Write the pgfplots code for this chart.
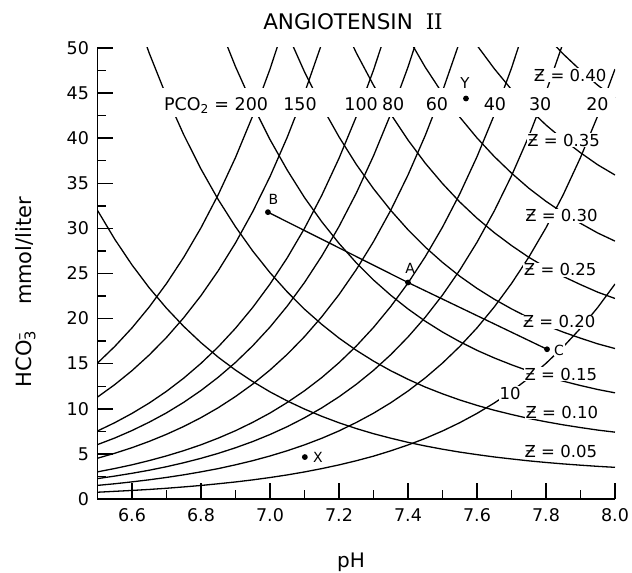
\documentclass[border=0pt]{standalone}
\usepackage{fontspec}
\setmainfont{DejaVu Sans}
\newfontfamily\serifII{DejaVu Serif}
\usepackage{pgfplots}
\usepackage{pgfplotstable}
\pgfplotsset{compat=1.18}

\pgfplotstableread{
ph   p200  p150  p100  p80   p60   p40   p30   p20   p10   z05   z10   z15   z20   z25   z30   z35   z40
6.50 15.07 11.30 7.54  6.03  4.52  3.01  2.26  1.51  0.75  32.00 67.60 nan   nan   nan   nan   nan   nan
6.55 16.91 12.68 8.46  6.76  5.07  3.38  2.54  1.69  0.85  28.80 60.80 nan   nan   nan   nan   nan   nan
6.60 18.97 14.23 9.49  7.59  5.69  3.79  2.85  1.90  0.95  25.95 54.80 nan   nan   nan   nan   nan   nan
6.65 21.29 15.97 10.64 8.52  6.39  4.26  3.19  2.13  1.06  23.41 49.42 nan   nan   nan   nan   nan   nan
6.70 23.89 17.91 11.94 9.55  7.17  4.78  3.58  2.39  1.19  21.15 44.64 70.90 nan   nan   nan   nan   nan
6.75 26.80 20.10 13.40 10.72 8.04  5.36  4.02  2.68  1.34  19.13 40.38 64.13 nan   nan   nan   nan   nan
6.80 30.07 22.55 15.04 12.03 9.02  6.01  4.51  3.01  1.50  17.33 36.58 58.09 nan   nan   nan   nan   nan
6.85 33.74 25.31 16.87 13.50 10.12 6.75  5.06  3.37  1.69  15.72 33.19 52.71 74.70 nan   nan   nan   nan
6.90 37.86 28.39 18.93 15.14 11.36 7.57  5.68  3.79  1.89  14.29 30.18 47.93 67.90 nan   nan   nan   nan
6.95 42.48 31.86 21.24 16.99 12.74 8.50  6.37  4.25  2.12  13.02 27.49 43.66 61.85 nan   nan   nan   nan
7.00 47.66 35.74 23.83 19.06 14.30 9.53  7.15  4.77  2.38  11.88 25.09 39.85 56.45 nan   nan   nan   nan
7.05 53.48 40.11 26.74 21.39 16.04 10.70 8.02  5.35  2.67  10.87 22.96 36.46 51.65 68.90 nan   nan   nan
7.10 nan   45.00 30.00 24.00 18.00 12.00 9.00  6.00  3.00  9.97  21.04 33.42 47.35 63.13 nan   nan   nan
7.15 nan   50.49 33.66 26.93 20.20 13.46 10.10 6.73  3.37  9.17  19.36 30.74 43.55 58.07 nan   nan   nan
7.20 nan   nan   37.77 30.21 22.66 15.11 11.33 7.55  3.78  8.45  17.84 28.34 40.15 53.53 68.80 nan   nan
7.25 nan   nan   42.38 33.90 25.43 16.95 12.71 8.48  4.24  7.81  16.49 26.19 37.10 49.47 63.60 nan   nan
7.30 nan   nan   47.55 38.04 28.53 19.02 14.26 9.51  4.75  7.24  15.29 24.28 34.40 45.87 58.97 nan   nan
7.35 nan   nan   53.35 42.68 32.01 21.34 16.00 10.67 5.34  6.74  14.22 22.59 32.00 42.67 54.86 nan   nan
7.40 nan   nan   nan   47.89 35.92 23.94 17.96 11.97 5.99  6.28  13.27 21.07 29.85 39.80 51.17 64.30 nan
7.45 nan   nan   nan   53.73 40.30 26.86 20.15 13.43 6.72  5.88  12.41 19.71 27.93 37.23 47.87 60.15 nan
7.50 nan   nan   nan   nan   45.21 30.14 22.61 15.07 7.54  5.52  11.66 18.51 26.23 34.97 44.96 56.48 nan
7.55 nan   nan   nan   nan   50.73 33.82 25.37 16.91 8.46  5.20  10.98 17.44 24.70 32.93 42.34 53.20 nan
7.60 nan   nan   nan   nan   nan   37.95 28.46 18.97 9.49  4.92  10.38 16.48 23.35 31.13 40.03 50.29 62.27
7.65 nan   nan   nan   nan   nan   42.58 31.93 21.29 10.64 4.66  9.84  15.64 22.15 29.53 37.97 47.71 59.07
7.70 nan   nan   nan   nan   nan   47.77 35.83 23.89 11.94 4.44  9.37  14.88 21.08 28.10 36.13 45.39 56.20
7.75 nan   nan   nan   nan   nan   53.60 40.20 26.80 13.40 4.23  8.93  14.19 20.10 26.80 34.46 43.29 53.60
7.80 nan   nan   nan   nan   nan   nan   45.11 30.07 15.04 4.05  8.56  13.59 19.25 25.67 33.00 41.46 51.33
7.85 nan   nan   nan   nan   nan   nan   50.61 33.74 16.87 3.89  8.22  13.06 18.50 24.67 31.71 39.85 49.33
7.90 nan   nan   nan   nan   nan   nan   nan   37.86 18.93 3.75  7.92  12.58 17.83 23.77 30.56 38.39 47.53
7.95 nan   nan   nan   nan   nan   nan   nan   42.48 21.24 3.62  7.64  12.14 17.20 22.93 29.49 37.05 45.87
8.00 nan   nan   nan   nan   nan   nan   nan   47.66 23.83 3.51  7.41  11.77 16.68 22.23 28.59 35.92 44.47
}\data

\newcommand{\lab}{\fontsize{16.5bp}{18bp}\selectfont}
\newcommand{\rowf}{\fontsize{17.5bp}{19bp}\selectfont}
\newcommand{\letf}{\fontsize{14bp}{16bp}\selectfont}

\begin{document}
\begin{tikzpicture}
\begin{axis}[
  scale only axis, width=517.5bp, height=451bp,
  xmin=6.5, xmax=8.0, ymin=0, ymax=50,
  axis x line=bottom, axis y line=left,
  axis line style={-, line width=1.8bp},
  xtick={6.6,6.8,7.0,7.2,7.4,7.6,7.8,8.0},
  xticklabels={6.6,6.8,7.0,7.2,7.4,7.6,7.8,8.0},
  minor xtick={6.7,6.9,7.1,7.3,7.5,7.7,7.9},
  ytick={0,5,10,15,20,25,30,35,40,45,50},
  yticklabels={0,5,10,15,20,25,30,35,40,45,50},
  minor ytick={2.5,7.5,12.5,17.5,22.5,27.5,32.5,37.5,42.5,47.5},
  tick align=inside,
  major tick length=16bp, minor tick length=9bp,
  every tick/.style={line width=1.4bp, black},
  tick label style={font=\fontsize{17.5bp}{19bp}\selectfont},
  xticklabel style={yshift=-6bp},
  yticklabel style={xshift=-5bp},
  axis on top,
  unbounded coords=jump,
  clip=true,
  every axis plot/.append style={line width=1.3bp, black},
]
\addplot[no marks] table[x=ph,y=p200] {\data};
\addplot[no marks] table[x=ph,y=p150] {\data};
\addplot[no marks] table[x=ph,y=p100] {\data};
\addplot[no marks] table[x=ph,y=p80] {\data};
\addplot[no marks] table[x=ph,y=p60] {\data};
\addplot[no marks] table[x=ph,y=p40] {\data};
\addplot[no marks] table[x=ph,y=p30] {\data};
\addplot[no marks] table[x=ph,y=p20] {\data};
\addplot[no marks] table[x=ph,y=p10] {\data};
\addplot[no marks] table[x=ph,y=z05] {\data};
\addplot[no marks] table[x=ph,y=z10] {\data};
\addplot[no marks] table[x=ph,y=z15] {\data};
\addplot[no marks] table[x=ph,y=z20] {\data};
\addplot[no marks] table[x=ph,y=z25] {\data};
\addplot[no marks] table[x=ph,y=z30] {\data};
\addplot[no marks] table[x=ph,y=z35] {\data};
\addplot[no marks] table[x=ph,y=z40] {\data};

% label row gap
\fill[white] (6.5,42.4) rectangle (8.0,45.6);

% PCO2 labels
\node[anchor=base east, font=\rowf, inner sep=0pt] at (6.995,43.1) {PCO\textsubscript{2} = 200};
\node[anchor=base, font=\rowf, inner sep=0pt] at (7.087,43.1) {150};
\node[anchor=base, font=\rowf, inner sep=0pt] at (7.264,43.1) {100};
\node[anchor=base, font=\rowf, inner sep=0pt] at (7.357,43.1) {80};
\node[anchor=base, font=\rowf, inner sep=0pt] at (7.484,43.1) {60};
\node[anchor=base, font=\rowf, inner sep=0pt] at (7.652,43.1) {40};
\node[anchor=base, font=\rowf, inner sep=0pt] at (7.783,43.1) {30};
\node[anchor=base, font=\rowf, inner sep=0pt] at (7.949,43.1) {20};

% Z labels
\node[font=\lab, fill=white, inner sep=0.8bp] at (7.870,47.0) {Ƶ = 0.40};
\node[font=\lab, fill=white, inner sep=0.8bp] at (7.851,39.75) {Ƶ = 0.35};
\node[font=\lab, fill=white, inner sep=0.8bp] at (7.845,31.4) {Ƶ = 0.30};
\node[font=\lab, fill=white, inner sep=0.8bp] at (7.841,25.4) {Ƶ = 0.25};
\node[font=\lab, fill=white, inner sep=0.8bp] at (7.838,19.65) {Ƶ = 0.20};
\node[font=\lab, fill=white, inner sep=0.8bp] at (7.843,13.85) {Ƶ = 0.15};
\node[font=\lab, fill=white, inner sep=0.8bp] at (7.846,9.6) {Ƶ = 0.10};
\node[font=\lab, fill=white, inner sep=0.8bp] at (7.843,5.3) {Ƶ = 0.05};
\node[font=\lab, fill=white, inner sep=0.8bp] at (7.696,11.7) {10};

% points
\addplot[line width=1.3bp, mark=*, mark size=2.2bp] coordinates {(6.994,31.8) (7.40,24.0) (7.803,16.6)};
\addplot[only marks, mark=*, mark size=2.2bp] coordinates {(7.101,4.65) (7.568,44.4)};
\node[font=\letf, inner sep=0.5bp] at (7.010,33.2) {B};
\node[font=\letf, inner sep=0.5bp] at (7.406,25.6) {A};
\node[font=\letf, fill=white, inner sep=0.5bp] at (7.838,16.5) {C};
\node[font=\letf, inner sep=0.5bp] at (7.139,4.65) {X};
\node[font=\fontsize{15bp}{17bp}\selectfont, inner sep=0.5bp] at (7.565,46.1) {Y};

\coordinate (O) at (rel axis cs:0,0);
\end{axis}
\node[font=\fontsize{21.5bp}{24bp}\selectfont] at ([xshift=255.5bp,yshift=477bp]O) {ANGIOTENSIN\hspace{0.6em}{\serifII II}};
\node[rotate=90, font=\fontsize{21bp}{24bp}\selectfont] at ([xshift=-72bp,yshift=207bp]O) {HCO\rlap{\textsubscript{3}}\textsuperscript{–}\hspace{1.3em}mmol/liter};
\node[font=\fontsize{20bp}{22bp}\selectfont] at ([xshift=253.5bp,yshift=-63bp]O) {pH};
\pgfresetboundingbox
\path[use as bounding box] ([xshift=-97.5bp,yshift=-74bp]O) rectangle ([xshift=534.5bp,yshift=499bp]O);
\end{tikzpicture}
\end{document}
